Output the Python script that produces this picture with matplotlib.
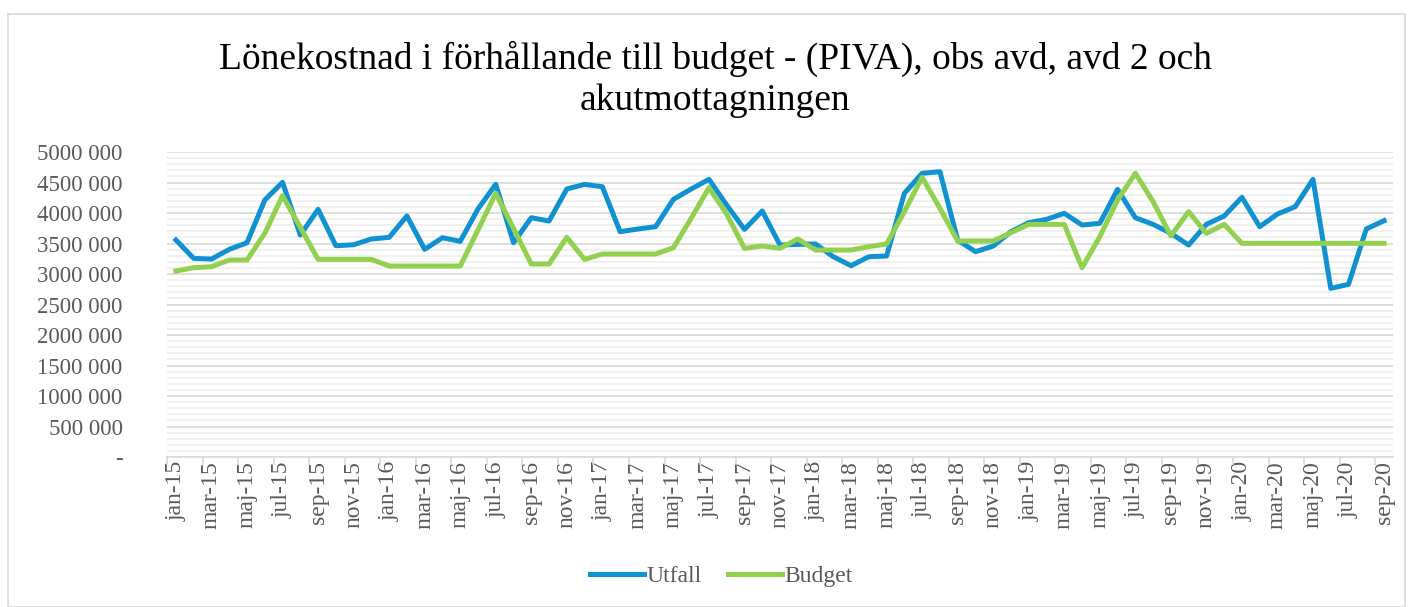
import matplotlib
matplotlib.use("Agg")
import matplotlib.pyplot as plt
import numpy as np
from matplotlib.patches import Rectangle

##########################

title = "Lönekostnad i förhållande till budget - (PIVA), obs avd, avd 2 och\nakutmottagningen"

months = ["jan", "feb", "mar", "apr", "maj", "jun", "jul", "aug", "sep", "okt", "nov", "dec"]
years = ["15", "16", "17", "18", "19", "20"]
categories = [m + "-" + y for y in years for m in months][:69]   # jan-15 .. sep-20

utfall = [3557, 3257, 3245, 3404, 3513, 4213, 4503, 3639, 4060, 3464, 3480, 3574,
          3601, 3951, 3404, 3595, 3536, 4066, 4470, 3513, 3923, 3869, 4393, 4470,
          4431, 3694, 3738, 3776, 4224, 4393, 4552, 4131, 3732, 4033, 3475, 3486,
          3492, 3284, 3136, 3284, 3295, 4323, 4651, 4677, 3557, 3366, 3459, 3694,
          3841, 3896, 3995, 3803, 3831, 4388, 3923, 3814, 3667, 3475, 3814, 3951,
          4257, 3776, 3983, 4103, 4552, 2765, 2831, 3738, 3874]
budget = [3049, 3104, 3120, 3230, 3230, 3667, 4284, 3765, 3240, 3240, 3240, 3240,
          3131, 3131, 3131, 3131, 3131, 3721, 4323, 3749, 3164, 3164, 3601, 3240,
          3328, 3328, 3328, 3328, 3431, 3913, 4415, 3983, 3421, 3459, 3421, 3574,
          3393, 3393, 3393, 3448, 3492, 4022, 4585, 4077, 3541, 3541, 3541, 3677,
          3814, 3814, 3814, 3104, 3612, 4213, 4651, 4186, 3623, 4022, 3667, 3814,
          3503, 3503, 3503, 3503, 3503, 3503, 3503, 3503, 3503]

ytick_vals = [0, 500000, 1000000, 1500000, 2000000, 2500000, 3000000, 3500000, 4000000, 4500000, 5000000]
ytick_labels = ["-", "500 000", "1000 000", "1500 000", "2000 000", "2500 000",
                "3000 000", "3500 000", "4000 000", "4500 000", "5000 000"]

##########################

plt.rcParams["font.family"] = ["Liberation Serif", "DejaVu Serif"]
blue = "#0F91D2"
green = "#92D050"
txtcol = "#595959"

fig = plt.figure(figsize=(14.11, 6.07), dpi=100)
fig.patches.append(Rectangle((8 / 1411, 0), 1397 / 1411, 593 / 607, transform=fig.transFigure,
                             fill=False, edgecolor="#D9D9D9", linewidth=1.2))

ax = fig.add_axes([0.1184, 0.247, 0.8688, 0.5026])
x = np.arange(len(categories))
ax.plot(x, np.array(utfall) * 1000, color=blue, lw=3.6, label="Utfall", solid_joinstyle="round")
ax.plot(x, np.array(budget) * 1000, color=green, lw=3.6, label="Budget", solid_joinstyle="round")

ax.set_xlim(-0.5, len(categories) - 0.5)
ax.set_ylim(0, 5000000)

ax.set_yticks(ytick_vals)
ax.set_yticklabels(ytick_labels, fontsize=16.5, color=txtcol)
ax.set_yticks(np.arange(0, 5000001, 100000), minor=True)
ax.grid(axis="y", which="major", color="#D9D9D9", lw=1.2)
ax.grid(axis="y", which="minor", color="#EEEEEE", lw=1.2)
ax.set_axisbelow(True)

ax.set_xticks(x[::2])
ax.set_xticklabels(categories[::2], rotation=90, fontsize=17, color=txtcol)
ax.set_xticks(np.arange(-0.5, len(categories), 2), minor=True)
ax.tick_params(axis="x", which="major", length=0, pad=3)
ax.tick_params(axis="x", which="minor", length=6, color="#D9D9D9", width=1.2)
ax.tick_params(axis="y", which="both", length=0, pad=32)

for s in ["top", "right", "left"]:
    ax.spines[s].set_visible(False)
ax.spines["bottom"].set_color("#D9D9D9")
ax.spines["bottom"].set_linewidth(1.2)

fig.text(0.507, 0.869, title, ha="center", va="center", fontsize=27, color="#000000", linespacing=1.25)

fig.legend(loc="center", bbox_to_anchor=(0.511, 0.05), ncol=2, frameon=False, fontsize=17,
           handlelength=2.3, columnspacing=1.1, handletextpad=0.1, labelcolor=txtcol)

plt.savefig("out.png", dpi=100)
plt.close()
